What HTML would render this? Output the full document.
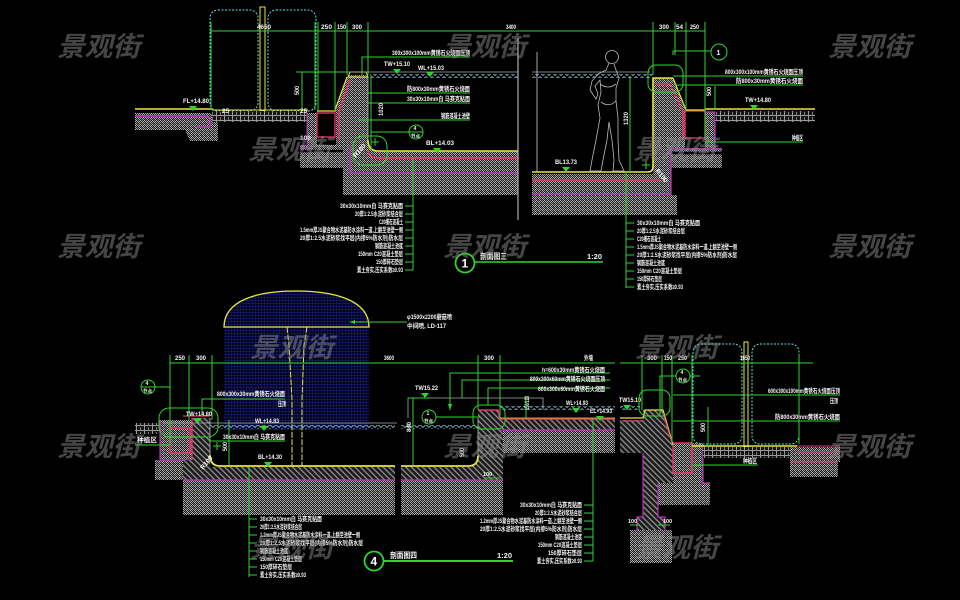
<!DOCTYPE html>
<html><head><meta charset="utf-8"><style>
html,body{margin:0;padding:0;background:#000;}
svg{display:block;}
.t{font-family:"Liberation Sans","Noto Sans CJK SC",sans-serif;font-size:6.5px;fill:#f4f4f4;font-weight:bold;}
.wm{font-family:"Liberation Sans","Noto Sans CJK SC",sans-serif;font-size:27px;font-weight:bold;font-style:italic;fill:#8a8a8a;fill-opacity:.5;}
.g{stroke:#2fd42f;stroke-width:1;fill:none;}
.y{stroke:#e8e838;fill:none;}
.r{stroke:#f0306a;fill:none;}
.m{stroke:#c030c0;fill:none;}
.w{stroke:#bbbbbb;fill:none;stroke-width:.8;}
</style></head><body>
<svg width="960" height="600" viewBox="0 0 960 600" xmlns="http://www.w3.org/2000/svg">
<defs>
<pattern id="conc" width="4" height="4" patternUnits="userSpaceOnUse">
<rect width="4" height="4" fill="#1c1c1c"/>
<rect x="0" y="0" width="1" height="1" fill="#b4b4b4"/>
<rect x="2" y="0" width="1" height="1" fill="#8c8c8c"/>
<rect x="1" y="1" width="1" height="1" fill="#a8a8a8"/>
<rect x="3" y="1" width="1" height="1" fill="#c0c0c0"/>
<rect x="0" y="2" width="1" height="1" fill="#999"/>
<rect x="2" y="2" width="1" height="1" fill="#b8b8b8"/>
<rect x="1" y="3" width="1" height="1" fill="#777"/>
<rect x="3" y="3" width="1" height="1" fill="#aaa"/>
</pattern>
<pattern id="hatch" width="4" height="4" patternUnits="userSpaceOnUse" patternTransform="rotate(-45)">
<rect width="4" height="4" fill="#1a1a1a"/>
<rect width="1.3" height="4" fill="#909090"/>
</pattern>
<pattern id="brick" width="8" height="5" patternUnits="userSpaceOnUse">
<rect width="8" height="5" fill="#151515"/>
<rect y="0" width="8" height="1" fill="#9a9a9a"/>
<rect x="0" y="0" width="1" height="5" fill="#9a9a9a"/>
<rect x="4" y="2" width="1" height="3" fill="#777"/>
</pattern>
<pattern id="blue" width="3" height="3" patternUnits="userSpaceOnUse">
<rect width="3" height="3" fill="#020218"/>
<rect width="3" height="0.8" fill="#161c70"/>
<rect width="0.8" height="3" fill="#10165c"/>
</pattern>
<pattern id="zig" width="6" height="4" patternUnits="userSpaceOnUse">
<path d="M0 0.5 L3 3.5 L6 0.5" stroke="#8fc8e0" fill="none" stroke-width="0.8"/>
</pattern>
</defs>
<rect width="960" height="600" fill="#000"/>

<!-- ================= TOP SECTION ================= -->
<rect x="210" y="10" width="48" height="101" rx="8" fill="none" stroke="#5ee0e0" stroke-dasharray="2 1.5"/>
<rect x="268" y="10" width="48" height="101" rx="8" fill="none" stroke="#5ee0e0" stroke-dasharray="2 1.5"/>
<rect x="260" y="7" width="5" height="104" fill="none" stroke="#e8e838"/>

<polygon points="135,113 210,113 218,118 218,141 190,141 185,130 135,130" fill="url(#conc)"/>
<path d="M135 116 H204 Q210 116 210 122 V127 H196" class="m" stroke-width="1.5"/>
<line x1="135" y1="109" x2="212" y2="109" class="y" stroke-width="1.5"/>
<rect x="212" y="111" width="96" height="11" fill="url(#brick)"/>
<line x1="212" y1="110" x2="308" y2="110" class="y"/>

<rect x="307" y="113" width="10" height="35" fill="url(#conc)"/>
<rect x="300" y="145" width="52" height="23" fill="url(#conc)"/>
<polygon points="348,75 368,75 368,146 374,151 518,151 518,195 343,195 343,168 352,168 352,145 336,145 336,110" fill="url(#conc)"/>
<line x1="300" y1="151" x2="343" y2="151" stroke="#000" stroke-width="2.5"/>
<rect x="317" y="113" width="18" height="24" fill="#000" class="r" stroke-width="1.3"/>
<line x1="317" y1="111" x2="336" y2="111" class="y" stroke-width="1.3"/>
<polygon points="350,72 366,72 368,77 348,77" fill="url(#conc)" class="y"/>
<line x1="347" y1="77" x2="335" y2="110" class="y" stroke-width="1.2"/>
<path d="M350 80 L339 112 V140" class="r" stroke-width="1.2"/>
<path d="M368 77 V142" class="w"/>
<path d="M368 140 Q368 151 378 151 H518" class="y" stroke-width="1.6"/>
<path d="M368 150 Q369 158 378 158 H518" class="r" stroke-width="1.4"/>
<path d="M350 146 V173 H518" class="m" stroke-width="1.3"/>
<path d="M307 113 V148 H300" class="m"/>
<line x1="345" y1="72" x2="518" y2="72" stroke="#aaa" stroke-width=".8"/>
<rect x="370" y="74" width="148" height="4" fill="url(#zig)"/>
<line x1="518" y1="38" x2="518" y2="220" stroke="#cfcfcf" stroke-width="1"/>

<polygon points="532,174 653,174 653,78 673,78 685,110 685,148 671,148 671,195 677,195 677,215 532,215" fill="url(#conc)"/>
<rect x="705" y="112" width="10" height="36" fill="url(#conc)"/>
<rect x="671" y="148" width="51" height="20" fill="url(#conc)"/>
<line x1="671" y1="153" x2="722" y2="153" stroke="#000" stroke-width="2.5"/>
<rect x="685" y="111" width="20" height="27" fill="#000" class="r" stroke-width="1.3"/>
<path d="M532 172 H648 Q653 172 653 166 V78 H673" class="y" stroke-width="1.6"/>
<path d="M673 78 L686 110 H705" class="y" stroke-width="1.2"/>
<path d="M532 180 H660" class="r" stroke-width="1.4"/>
<path d="M656 84 H670 L683 112 V137" class="r" stroke-width="1.2"/>
<path d="M532 194 H671 V148 M671 149 H722 M705 112 H715 V148" class="m" stroke-width="1.3"/>
<rect x="715" y="111" width="100" height="11" fill="url(#brick)"/>
<line x1="705" y1="109" x2="815" y2="109" class="y" stroke-width="1.5"/>
<line x1="532" y1="72" x2="650" y2="72" stroke="#aaa" stroke-width=".8"/>
<rect x="532" y="74" width="121" height="4" fill="url(#zig)"/>
<line x1="537" y1="52" x2="537" y2="172" stroke="#cfcfcf" stroke-width=".8"/>

<circle cx="612" cy="57" r="6.5" class="w"/>
<path d="M609 63 L606 70 L598 74 L592 81 L590 90 L596 99 L598 94 L595 86 L600 80 L601 92 L598 105 L600 118 L596 140 L592 160 L590 171 L601 171 L603 160 L607 140 L609 122 L612 140 L614 160 L613 171 L624 171 L619 160 L618 140 L618 118 L616 101 L616 88 L619 78 L616 70 L614 64" class="w"/>
<path d="M600 84 Q608 90 616 84 M601 102 Q609 108 616 101" class="w"/>

<path d="M210 31 H705" class="g"/>
<path d="M211 22 V110 M315 22 V110 M318 22 V112 M335 22 V110 M347 22 V75 M368 22 V75 M653 22 V75 M675 22 V55 M686 22 V110 M705 22 V140" class="g"/>
<text x="257" y="29" class="t" textLength="14" lengthAdjust="spacingAndGlyphs">4650</text>
<text x="321" y="29" class="t" textLength="11" lengthAdjust="spacingAndGlyphs">250</text>
<text x="337" y="29" class="t" textLength="9" lengthAdjust="spacingAndGlyphs">150</text>
<text x="352" y="29" class="t" textLength="10" lengthAdjust="spacingAndGlyphs">300</text>
<text x="506" y="29" class="t" textLength="10" lengthAdjust="spacingAndGlyphs">3400</text>
<text x="659" y="29" class="t" textLength="10" lengthAdjust="spacingAndGlyphs">300</text>
<text x="676" y="29" class="t" textLength="7" lengthAdjust="spacingAndGlyphs">54</text>
<text x="690" y="29" class="t" textLength="9" lengthAdjust="spacingAndGlyphs">250</text>

<path d="M362 75 V57 H470 M302 72 V110 M296 72 H345 M371 75 V150" class="g"/>
<text x="392" y="55" class="t" textLength="78" lengthAdjust="spacingAndGlyphs">300x300x100mm黄锈石火烧面压顶</text>
<text x="384" y="66" class="t" textLength="26" lengthAdjust="spacingAndGlyphs">TW+15.10</text>
<polygon points="393,69 401,69 397,74" fill="#2fd42f"/>
<text x="418" y="70" class="t" textLength="26" lengthAdjust="spacingAndGlyphs">WL+15.03</text>
<polygon points="426,72 434,72 430,77" fill="#2fd42f"/>
<path d="M368 93 H470 M368 103 H470 M358 120 H470" class="g"/>
<text x="407" y="91" class="t" textLength="63" lengthAdjust="spacingAndGlyphs">防800x30mm黄锈石火烧面</text>
<text x="407" y="101" class="t" textLength="63" lengthAdjust="spacingAndGlyphs">30x30x10mm白 马赛克贴面</text>
<text x="441" y="118" class="t" textLength="29" lengthAdjust="spacingAndGlyphs">钢筋混凝土池壁</text>
<text x="299" y="95" class="t" transform="rotate(-90 299 95)" textLength="9" lengthAdjust="spacingAndGlyphs">500</text>
<text x="383" y="116" class="t" transform="rotate(-90 383 116)" textLength="13" lengthAdjust="spacingAndGlyphs">1020</text>
<text x="183" y="103" class="t" textLength="26" lengthAdjust="spacingAndGlyphs">FL+14.80</text>
<polygon points="189,106 197,106 193,111" fill="#2fd42f"/>
<text x="222" y="113" class="t">25</text>
<text x="300" y="113" class="t">25</text>
<text x="300" y="140" class="t">100</text>
<rect x="353" y="136" width="34" height="29" rx="10" class="g" stroke-width="1.4"/>
<path d="M371 142 H379 M375 138 V146" class="g"/>
<text x="356" y="158" class="t" transform="rotate(-50 356 158)">R100</text>
<path d="M371 132 H409" class="g"/>
<circle cx="416" cy="132" r="7" class="g" stroke-width="1.2"/>
<path d="M409 132 H423" class="g"/>
<text x="413.5" y="130" class="t" style="font-size:5px">4</text>
<text x="411" y="137.5" class="t" style="font-size:4.5px">节点</text>
<text x="426" y="145" class="t" textLength="28" lengthAdjust="spacingAndGlyphs">BL+14.03</text>
<polygon points="433,148 441,148 437,153" fill="#2fd42f"/>

<path d="M673 55 V51 H711" class="g"/>
<circle cx="719" cy="52" r="8" class="g" stroke-width="1.2"/>
<text x="716.5" y="55" class="t" style="font-size:7px">1</text>
<rect x="648" y="65" width="35" height="27" rx="8" class="g" stroke-width="1.4"/>
<path d="M673 76 H803 M675 85 H803 M715 86 V110 M705 142 H803 M630 76 V172" class="g"/>
<text x="725" y="74" class="t" textLength="78" lengthAdjust="spacingAndGlyphs">800x300x100mm黄锈石火烧面压顶</text>
<text x="736" y="83" class="t" textLength="67" lengthAdjust="spacingAndGlyphs">防800x30mm黄锈石火烧面</text>
<text x="711" y="96" class="t" transform="rotate(-90 711 96)" textLength="9" lengthAdjust="spacingAndGlyphs">500</text>
<text x="745" y="102" class="t" textLength="26" lengthAdjust="spacingAndGlyphs">TW+14.80</text>
<polygon points="750,105 758,105 754,110" fill="#2fd42f"/>
<text x="792" y="140" class="t" textLength="11" lengthAdjust="spacingAndGlyphs">种植区</text>
<text x="628" y="125" class="t" transform="rotate(-90 628 125)" textLength="13" lengthAdjust="spacingAndGlyphs">1320</text>
<text x="555" y="164" class="t" textLength="22" lengthAdjust="spacingAndGlyphs">BL13.73</text>
<polygon points="562,167 570,167 566,172" fill="#2fd42f"/>
<path d="M642 165 H650 M646 161 V169" class="g"/>
<text x="655" y="171" class="t" transform="rotate(50 655 171)">R100</text>

<path d="M413 158 V270 M405 206 H413 M405 214 H413 M405 222 H413 M405 230 H413 M405 238 H413 M405 246 H413 M405 254 H413 M405 262 H413 M405 270 H413" class="g"/>
<g text-anchor="end">
<text x="403" y="208" class="t" textLength="63" lengthAdjust="spacingAndGlyphs">30x30x10mm白 马赛克贴面</text>
<text x="403" y="216" class="t" textLength="48" lengthAdjust="spacingAndGlyphs">20厚1:2.5水泥砂浆结合层</text>
<text x="403" y="224" class="t" textLength="24" lengthAdjust="spacingAndGlyphs">C20细石混凝土</text>
<text x="403" y="232" class="t" textLength="103" lengthAdjust="spacingAndGlyphs">1.5mm厚JS聚合物水泥基防水涂料一道,上翻至池壁一侧</text>
<text x="403" y="240" class="t" textLength="103" lengthAdjust="spacingAndGlyphs">20厚1:2.5水泥砂浆找平层(内掺5%防水剂)防水层</text>
<text x="403" y="248" class="t" textLength="28" lengthAdjust="spacingAndGlyphs">钢筋混凝土池底</text>
<text x="403" y="256" class="t" textLength="45" lengthAdjust="spacingAndGlyphs">150mm C20混凝土垫层</text>
<text x="403" y="264" class="t" textLength="27" lengthAdjust="spacingAndGlyphs">150厚碎石垫层</text>
<text x="403" y="272" class="t" textLength="46" lengthAdjust="spacingAndGlyphs">素土夯实,压实系数≥0.93</text>
</g>
<path d="M626 172 V288 M626 223 H634 M626 231 H634 M626 239 H634 M626 247 H634 M626 255 H634 M626 263 H634 M626 271 H634 M626 279 H634 M626 287 H634" class="g"/>
<text x="637" y="225" class="t" textLength="63" lengthAdjust="spacingAndGlyphs">30x30x10mm白 马赛克贴面</text>
<text x="637" y="233" class="t" textLength="48" lengthAdjust="spacingAndGlyphs">20厚1:2.5水泥砂浆结合层</text>
<text x="637" y="241" class="t" textLength="24" lengthAdjust="spacingAndGlyphs">C20细石混凝土</text>
<text x="637" y="249" class="t" textLength="100" lengthAdjust="spacingAndGlyphs">1.5mm厚JS聚合物水泥基防水涂料一道,上翻至池壁一侧</text>
<text x="637" y="257" class="t" textLength="100" lengthAdjust="spacingAndGlyphs">20厚1:2.5水泥砂浆找平层(内掺5%防水剂)防水层</text>
<text x="637" y="265" class="t" textLength="28" lengthAdjust="spacingAndGlyphs">钢筋混凝土池底</text>
<text x="637" y="273" class="t" textLength="45" lengthAdjust="spacingAndGlyphs">150mm C20混凝土垫层</text>
<text x="637" y="281" class="t" textLength="25" lengthAdjust="spacingAndGlyphs">150厚碎石垫层</text>
<text x="637" y="289" class="t" textLength="46" lengthAdjust="spacingAndGlyphs">素土夯实,压实系数≥0.93</text>

<circle cx="465" cy="263" r="9.5" stroke="#2fd42f" stroke-width="1.8" fill="none"/>
<text x="461.5" y="267.5" style="font-family:'Liberation Sans',sans-serif;font-size:12px;font-weight:bold;fill:#fff">1</text>
<line x1="475" y1="262" x2="603" y2="262" stroke="#2fd42f" stroke-width="1.5"/>
<text x="480" y="259" class="t" style="font-size:8px" textLength="27" lengthAdjust="spacingAndGlyphs">剖面图三</text>
<text x="587" y="259" class="t" style="font-size:7px" textLength="15" lengthAdjust="spacingAndGlyphs">1:20</text>

<!-- ================= BOTTOM SECTION ================= -->
<path d="M224 327 C224 300 258 291 296 291 C334 291 369 300 369 327 V430 H224 Z" fill="url(#blue)"/>
<path d="M224 327 C224 300 258 291 296 291 C334 291 369 300 369 327 Z" class="y" stroke-width="1.3"/>
<path d="M287 327 L289 345 L292 400 V466 M307 327 L304 345 L302 400 V466" class="y" stroke-dasharray="6 1.5"/>
<path d="M350 322 H407" class="g"/>
<polygon points="350,322 355,320 355,324" fill="#2fd42f"/>
<text x="407" y="319" class="t" textLength="45" lengthAdjust="spacingAndGlyphs">φ1500x2200蘑菇喷</text>
<text x="407" y="328" class="t" textLength="39" lengthAdjust="spacingAndGlyphs">中间喷, LD-117</text>

<rect x="135" y="423" width="25" height="11" fill="url(#brick)"/>
<rect x="160" y="420" width="33" height="40" fill="url(#conc)"/>
<rect x="155" y="460" width="35" height="20" fill="url(#conc)"/>
<rect x="170" y="428" width="20" height="25" fill="#000" class="r" stroke-width="1.4"/>
<path d="M160 420 V460 H193" class="m" stroke-width="1.2"/>
<text x="137" y="442" class="t" textLength="20" lengthAdjust="spacingAndGlyphs">种植区</text>
<line x1="135" y1="445" x2="170" y2="445" class="g"/>

<rect x="183" y="480" width="212" height="35" fill="url(#conc)"/>
<rect x="401" y="480" width="102" height="35" fill="url(#conc)"/>
<polygon points="192,418 210,418 210,467 395,467 395,480 183,480 183,460 192,460" fill="url(#hatch)"/>
<polygon points="401,467 471,467 478,460 478,410 498,410 500,419 615,419 615,453 503,453 503,480 401,480" fill="url(#hatch)"/>
<rect x="503" y="430" width="112" height="23" fill="url(#conc)"/>
<path d="M210 455 Q210 466 220 466 H395 M401 466 H468 Q478 466 478 456" class="y" stroke-width="1.8"/>
<path d="M210 418 V456 M478 418 V456" class="w"/>
<path d="M183 416 H210 M192 418 V460" class="r" stroke-width="1.3"/>
<path d="M478 410 H498 L500 419 H615" class="r" stroke-width="1.6"/>
<line x1="500" y1="418" x2="615" y2="418" class="y" stroke-width=".8"/>
<path d="M183 480 H395 M401 480 H503 M500 430 H615" class="m" stroke-width="1.3"/>
<line x1="163" y1="423" x2="397" y2="423" stroke="#aaa" stroke-width=".8"/>
<path d="M408 418 V398 H543 V410" stroke="#aaa" stroke-width=".8" fill="none"/>
<rect x="210" y="425" width="185" height="4" fill="url(#zig)"/>
<rect x="401" y="425" width="77" height="4" fill="url(#zig)"/>
<rect x="500" y="406" width="115" height="4" fill="url(#zig)"/>

<polygon points="620,420 643,420 643,410 663,410 673,445 673,483 658,483 658,517 665,517 665,530 637,530 637,517 643,517 643,453 620,453" fill="url(#hatch)"/>
<rect x="630" y="530" width="42" height="33" fill="url(#conc)"/>
<rect x="673" y="443" width="30" height="40" fill="url(#conc)"/>
<rect x="658" y="483" width="52" height="22" fill="url(#conc)"/>
<rect x="673" y="443" width="19" height="30" fill="#000" class="r" stroke-width="1.4"/>
<path d="M620 418 H643 L645 410 H663 L673 445" class="y" stroke-width="1.3"/>
<path d="M622 421 H643 M663 413 L672 443" class="r" stroke-width="1.2"/>
<path d="M643 453 V517 H637 V530 M658 483 V517 H665 V530 M703 445 V483 H710" class="m" stroke-width="1.2"/>
<rect x="620" y="406" width="20" height="4" fill="url(#zig)"/>
<rect x="693" y="344" width="49" height="100" rx="8" fill="none" stroke="#5ee0e0" stroke-dasharray="2 1.5"/>
<rect x="752" y="344" width="47" height="100" rx="8" fill="none" stroke="#5ee0e0" stroke-dasharray="2 1.5"/>
<rect x="744" y="342" width="4" height="105" fill="none" stroke="#e8e838"/>
<rect x="703" y="447" width="94" height="11" fill="url(#brick)"/>
<line x1="692" y1="446" x2="797" y2="446" class="y" stroke-width="1.5"/>
<polygon points="790,447 840,447 840,462 838,462 838,477 790,477" fill="url(#conc)"/>
<path d="M797 446 H840 M797 452 H840 M790 462 H838" stroke="#d04080" fill="none" stroke-width="1"/>

<path d="M170 363 H615 M620 363 H813" class="g"/>
<path d="M170 355 V445 M189 355 V420 M212 355 V420 M478 355 V410 M500 355 V418 M642 355 V410 M662 355 V410 M672 355 V445 M692 355 V445 M799 355 V444" class="g"/>
<text x="175" y="360" class="t" textLength="10" lengthAdjust="spacingAndGlyphs">250</text>
<text x="196" y="360" class="t" textLength="10" lengthAdjust="spacingAndGlyphs">300</text>
<text x="384" y="360" class="t" textLength="10" lengthAdjust="spacingAndGlyphs">3600</text>
<text x="484" y="360" class="t" textLength="10" lengthAdjust="spacingAndGlyphs">300</text>
<text x="584" y="360" class="t" textLength="9" lengthAdjust="spacingAndGlyphs">外墙</text>
<text x="647" y="360" class="t" textLength="10" lengthAdjust="spacingAndGlyphs">300</text>
<text x="664" y="360" class="t" textLength="8" lengthAdjust="spacingAndGlyphs">150</text>
<text x="678" y="360" class="t" textLength="9" lengthAdjust="spacingAndGlyphs">250</text>
<text x="740" y="360" class="t" textLength="10" lengthAdjust="spacingAndGlyphs">1650</text>

<circle cx="148" cy="387" r="7" class="g" stroke-width="1.2"/>
<path d="M141 387 H155 M155 387 H170" class="g"/>
<text x="145.5" y="385" class="t" style="font-size:5px">4</text>
<text x="143" y="392.5" class="t" style="font-size:4.5px">节点</text>
<rect x="159" y="408" width="59" height="29" rx="10" class="g" stroke-width="1.4"/>
<path d="M202 415 V399 H285 M210 441 H285 M229 420 V465" class="g"/>
<text x="217" y="396" class="t" textLength="68" lengthAdjust="spacingAndGlyphs">800x300x30mm黄锈石火烧面</text>
<text x="278" y="406" class="t" textLength="8" lengthAdjust="spacingAndGlyphs">压顶</text>
<text x="186" y="416" class="t" textLength="26" lengthAdjust="spacingAndGlyphs">TW+14.80</text>
<polygon points="194,418 202,418 198,423" fill="#2fd42f"/>
<text x="255" y="423" class="t" textLength="24" lengthAdjust="spacingAndGlyphs">WL+14.83</text>
<polygon points="260,426 268,426 264,431" fill="#2fd42f"/>
<text x="223" y="439" class="t" textLength="62" lengthAdjust="spacingAndGlyphs">30x30x10mm白 马赛克贴面</text>
<text x="227" y="451" class="t" transform="rotate(-90 227 451)" textLength="9" lengthAdjust="spacingAndGlyphs">500</text>
<text x="258" y="459" class="t" textLength="24" lengthAdjust="spacingAndGlyphs">BL+14.30</text>
<polygon points="264,462 272,462 268,467" fill="#2fd42f"/>
<path d="M213 446 H221 M217 442 V450" class="g"/>
<text x="203" y="470" class="t" transform="rotate(-50 203 470)">R100</text>

<text x="415" y="390" class="t" textLength="23" lengthAdjust="spacingAndGlyphs">TW15.22</text>
<polygon points="421,393 429,393 425,398" fill="#2fd42f"/>
<path d="M408 398 H430 M413 398 V465 M450 410 V373 H610 M462 398 V380 H610 M488 405 V388 H610 M436 417 H480" class="g"/>
<polygon points="450,410 448,404 452,404" fill="#2fd42f"/>
<circle cx="429" cy="417" r="7" class="g" stroke-width="1.2"/>
<text x="426.5" y="415" class="t" style="font-size:5px">1</text>
<text x="424" y="422.5" class="t" style="font-size:4.5px">节点</text>
<text x="411" y="432" class="t" transform="rotate(-90 411 432)" textLength="10" lengthAdjust="spacingAndGlyphs">840</text>
<text x="464" y="457" class="t" transform="rotate(-90 464 457)" textLength="9" lengthAdjust="spacingAndGlyphs">500</text>
<rect x="473" y="405" width="32" height="24" rx="8" class="g" stroke-width="1.4"/>
<text x="542" y="372" class="t" textLength="63" lengthAdjust="spacingAndGlyphs">h=600x30mm黄锈石火烧面</text>
<text x="530" y="381" class="t" textLength="75" lengthAdjust="spacingAndGlyphs">800x300x60mm黄锈石火烧面压顶</text>
<text x="538" y="391" class="t" textLength="67" lengthAdjust="spacingAndGlyphs">600x300x60mm黄锈石火烧面</text>
<text x="529" y="410" class="t" transform="rotate(-90 529 410)" textLength="14" lengthAdjust="spacingAndGlyphs">150/120</text>
<path d="M526 418 V398" class="g"/>
<text x="566" y="405" class="t" textLength="22" lengthAdjust="spacingAndGlyphs">WL+14.93</text>
<polygon points="572,408 580,408 576,413" fill="#2fd42f"/>
<text x="590" y="413" class="t" textLength="22" lengthAdjust="spacingAndGlyphs">EL+14.93</text>
<polygon points="596,416 604,416 600,421" fill="#2fd42f"/>
<path d="M484 478 H500" class="g"/>
<text x="483" y="476" class="t" style="font-size:5.5px">100</text>

<text x="619" y="402" class="t" textLength="22" lengthAdjust="spacingAndGlyphs">TW15.10</text>
<polygon points="623,405 631,405 627,410" fill="#2fd42f"/>
<circle cx="683" cy="376" r="7" class="g" stroke-width="1.2"/>
<text x="680.5" y="374" class="t" style="font-size:5px">4</text>
<text x="678" y="381.5" class="t" style="font-size:4.5px">节点</text>
<path d="M660 415 V376 H676 M690 376 H700" class="g"/>
<rect x="639" y="390" width="31" height="26" rx="8" class="g" stroke-width="1.4"/>
<path d="M673 395 H840 M673 421 H840 M708 407 V447 M692 465 H758" class="g"/>
<text x="768" y="393" class="t" textLength="72" lengthAdjust="spacingAndGlyphs">600x300x100mm黄锈石火烧面压顶</text>
<text x="830" y="403" class="t" textLength="8" lengthAdjust="spacingAndGlyphs">压顶</text>
<text x="775" y="419" class="t" textLength="65" lengthAdjust="spacingAndGlyphs">防800x30mm黄锈石火烧面</text>
<text x="705" y="432" class="t" transform="rotate(-90 705 432)" textLength="9" lengthAdjust="spacingAndGlyphs">500</text>
<text x="743" y="463" class="t" textLength="14" lengthAdjust="spacingAndGlyphs">种植区</text>
<path d="M630 525 H640 M658 525 H670" class="g"/>
<text x="628" y="523" class="t" style="font-size:5.5px">100</text>
<text x="663" y="523" class="t" style="font-size:5.5px">100</text>

<path d="M249 467 V577 M249 519 H257 M249 527 H257 M249 535 H257 M249 543 H257 M249 551 H257 M249 559 H257 M249 567 H257 M249 575 H257" class="g"/>
<text x="260" y="521" class="t" textLength="62" lengthAdjust="spacingAndGlyphs">30x30x10mm白 马赛克贴面</text>
<text x="260" y="529" class="t" textLength="42" lengthAdjust="spacingAndGlyphs">20厚1:2.5水泥砂浆结合层</text>
<text x="260" y="537" class="t" textLength="100" lengthAdjust="spacingAndGlyphs">1.2mm厚JS聚合物水泥基防水涂料一道,上翻至池壁一侧</text>
<text x="260" y="545" class="t" textLength="103" lengthAdjust="spacingAndGlyphs">20厚1:2.5水泥砂浆找平层(内掺5%防水剂)防水层</text>
<text x="260" y="553" class="t" textLength="28" lengthAdjust="spacingAndGlyphs">钢筋混凝土池底</text>
<text x="260" y="561" class="t" textLength="42" lengthAdjust="spacingAndGlyphs">150mm C20混凝土垫层</text>
<text x="260" y="569" class="t" textLength="32" lengthAdjust="spacingAndGlyphs">150厚碎石垫层</text>
<text x="260" y="577" class="t" textLength="46" lengthAdjust="spacingAndGlyphs">素土夯实,压实系数≥0.93</text>

<path d="M593 418 V561 M584 505 H593 M584 513 H593 M584 521 H593 M584 529 H593 M584 537 H593 M584 545 H593 M584 553 H593 M584 561 H593" class="g"/>
<g text-anchor="end">
<text x="582" y="507" class="t" textLength="62" lengthAdjust="spacingAndGlyphs">30x30x10mm白 马赛克贴面</text>
<text x="582" y="515" class="t" textLength="47" lengthAdjust="spacingAndGlyphs">20厚1:2.5水泥砂浆结合层</text>
<text x="582" y="523" class="t" textLength="102" lengthAdjust="spacingAndGlyphs">1.2mm厚JS聚合物水泥基防水涂料一道,上翻至池壁一侧</text>
<text x="582" y="531" class="t" textLength="102" lengthAdjust="spacingAndGlyphs">20厚1:2.5水泥砂浆找平层(内掺5%防水剂)防水层</text>
<text x="582" y="539" class="t" textLength="27" lengthAdjust="spacingAndGlyphs">钢筋混凝土池底</text>
<text x="582" y="547" class="t" textLength="44" lengthAdjust="spacingAndGlyphs">150mm C20混凝土垫层</text>
<text x="582" y="555" class="t" textLength="34" lengthAdjust="spacingAndGlyphs">150厚碎石垫层</text>
<text x="582" y="563" class="t" textLength="45" lengthAdjust="spacingAndGlyphs">素土夯实,压实系数≥0.93</text>
</g>

<circle cx="374" cy="561" r="9.5" stroke="#2fd42f" stroke-width="1.8" fill="none"/>
<text x="370.5" y="565.5" style="font-family:'Liberation Sans',sans-serif;font-size:12px;font-weight:bold;fill:#fff">4</text>
<line x1="384" y1="561" x2="513" y2="561" stroke="#2fd42f" stroke-width="2"/>
<text x="390" y="558" class="t" style="font-size:8px" textLength="27" lengthAdjust="spacingAndGlyphs">剖面图四</text>
<text x="497" y="558" class="t" style="font-size:7px" textLength="15" lengthAdjust="spacingAndGlyphs">1:20</text>

<g class="wm">
<text x="57" y="56" textLength="83" lengthAdjust="spacingAndGlyphs">景观街</text>
<text x="443" y="56" textLength="83" lengthAdjust="spacingAndGlyphs">景观街</text>
<text x="828" y="56" textLength="83" lengthAdjust="spacingAndGlyphs">景观街</text>
<text x="248" y="159" textLength="83" lengthAdjust="spacingAndGlyphs">景观街</text>
<text x="633" y="159" textLength="83" lengthAdjust="spacingAndGlyphs">景观街</text>
<text x="57" y="256" textLength="83" lengthAdjust="spacingAndGlyphs">景观街</text>
<text x="443" y="256" textLength="83" lengthAdjust="spacingAndGlyphs">景观街</text>
<text x="828" y="256" textLength="83" lengthAdjust="spacingAndGlyphs">景观街</text>
<text x="250" y="357" textLength="83" lengthAdjust="spacingAndGlyphs">景观街</text>
<text x="635" y="357" textLength="83" lengthAdjust="spacingAndGlyphs">景观街</text>
<text x="57" y="456" textLength="83" lengthAdjust="spacingAndGlyphs">景观街</text>
<text x="443" y="456" textLength="83" lengthAdjust="spacingAndGlyphs">景观街</text>
<text x="828" y="456" textLength="83" lengthAdjust="spacingAndGlyphs">景观街</text>
<text x="250" y="557" textLength="83" lengthAdjust="spacingAndGlyphs">景观街</text>
<text x="635" y="557" textLength="83" lengthAdjust="spacingAndGlyphs">景观街</text>
</g>
</svg>
</body></html>
